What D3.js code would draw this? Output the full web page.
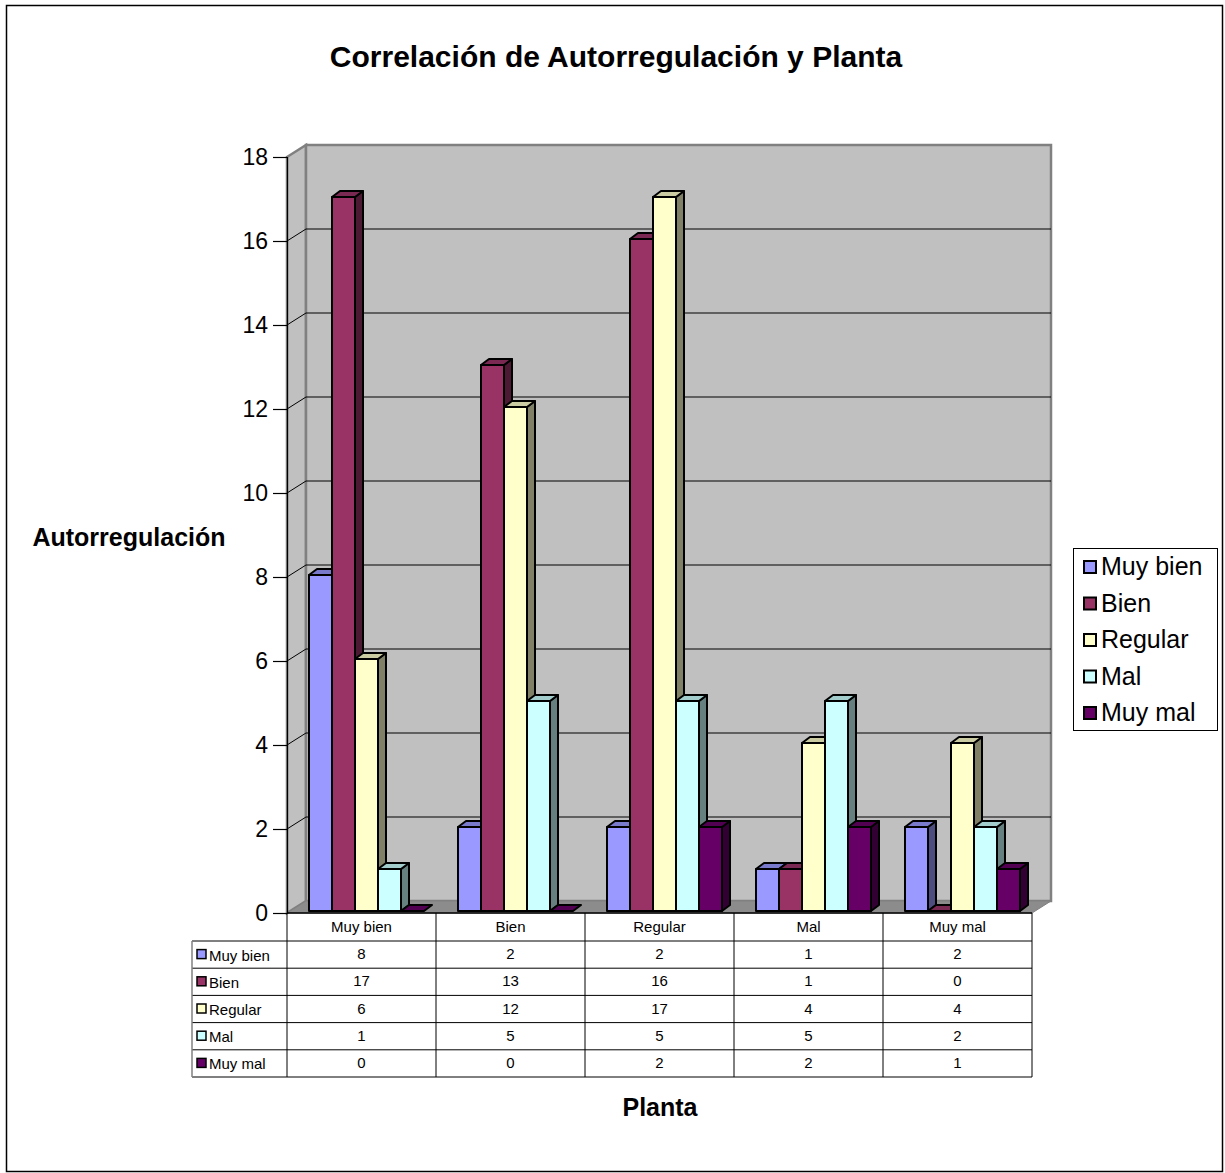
<!DOCTYPE html>
<html>
<head>
<meta charset="utf-8">
<script src="https://cdn.jsdelivr.net/npm/d3@7"></script>
<style>
  html, body { margin: 0; padding: 0; background: #fff; }
  svg { display: block; font-family: Arial, "Liberation Sans", sans-serif; }
</style>
</head>
<body>
<svg id="chart" width="1225" height="1173"></svg>
<script>
// Categories along the x axis (Planta)
const categories = ["Muy bien", "Bien", "Regular", "Mal", "Muy mal"];
// Series (Autorregulación levels)
const seriesNames = ["Muy bien", "Bien", "Regular", "Mal", "Muy mal"];
const seriesColors = ["#9999FF", "#993366", "#FFFFCC", "#CCFFFF", "#660066"];
// Values per series, one entry per category
const valMuyBien = [8, 2, 2, 1, 2];
const valBien    = [17, 13, 16, 1, 0];
const valRegular = [6, 12, 17, 4, 4];
const valMal     = [1, 5, 5, 5, 2];
const valMuyMal  = [0, 0, 2, 2, 1];
const yTicks = [0, 2, 4, 6, 8, 10, 12, 14, 16, 18];

const seriesValues = [valMuyBien, valBien, valRegular, valMal, valMuyMal];

const svg = d3.select("#chart");

// outer frame
svg.append("rect").attr("x", 6.5).attr("y", 5.5).attr("width", 1216).attr("height", 1166)
  .attr("fill", "#fff").attr("stroke", "#000").attr("stroke-width", 1.5);

// layout of the 3D plot
const frontLeft = 287, frontRight = 1032, frontBottom = 913;
const depthX = 19, depthY = -12;     // offset of the back wall
const barDX = 8, barDY = -6;          // depth of each column
const barShiftX = 2, barShiftY = -2;  // columns sit slightly behind the front plane

const x0 = d3.scaleBand().domain(categories).range([frontLeft, frontRight]).padding(0);
const x1 = d3.scaleBand().domain(seriesNames).range([22 - barShiftX, 137 - barShiftX]).padding(0);
const yAxisScale = d3.scaleLinear().domain([0, 18]).range([frontBottom, 157]);
const yBar = d3.scaleLinear().domain([0, 18]).range([frontBottom + barShiftY, 157 + barShiftY]);

const topY = yAxisScale(18);

// side wall
svg.append("polygon")
  .attr("points", [[frontLeft, topY], [frontLeft + depthX, topY + depthY], [frontLeft + depthX, frontBottom + depthY], [frontLeft, frontBottom]].join(" "))
  .attr("fill", "#c0c0c0").attr("stroke", "#808080").attr("stroke-width", 2.5);
// back wall
svg.append("rect")
  .attr("x", frontLeft + depthX).attr("y", topY + depthY)
  .attr("width", frontRight - frontLeft).attr("height", frontBottom - topY)
  .attr("fill", "#c0c0c0").attr("stroke", "#808080").attr("stroke-width", 2.5);

// gridlines on back and side walls
const grid = svg.append("g");
yTicks.filter(t => t > 0 && t < 18).forEach(t => {
  const yy = yAxisScale(t);
  grid.append("line").attr("x1", frontLeft).attr("y1", yy).attr("x2", frontLeft + depthX).attr("y2", yy + depthY)
    .attr("stroke", "#000").attr("stroke-width", 1);
  grid.append("line").attr("x1", frontLeft + depthX).attr("y1", yy + depthY).attr("x2", frontRight + depthX).attr("y2", yy + depthY)
    .attr("stroke", "#000").attr("stroke-width", 1);
});

// floor
svg.append("polygon")
  .attr("points", [[frontLeft, frontBottom], [frontLeft + depthX, frontBottom + depthY], [frontRight + depthX, frontBottom + depthY], [frontRight, frontBottom]].join(" "))
  .attr("fill", "#8c8c8c").attr("stroke", "#808080").attr("stroke-width", 1);

// columns
const shade = (c, k) => { const r = d3.rgb(c); return d3.rgb(r.r * k, r.g * k, r.b * k).formatHex(); };
const bars = svg.append("g").attr("stroke", "#000").attr("stroke-width", 2).attr("stroke-linejoin", "round");
categories.forEach((cat, ci) => {
  seriesNames.forEach((s, si) => {
    const v = seriesValues[si][ci];
    const color = seriesColors[si];
    const xl = x0(cat) + x1(s) + barShiftX;
    const xr = xl + x1.bandwidth();
    const yb = yBar(0);
    const yt = yBar(v);
    if (v > 0) {
      bars.append("polygon")
        .attr("points", [[xr, yt], [xr + barDX, yt + barDY], [xr + barDX, yb + barDY], [xr, yb]].join(" "))
        .attr("fill", shade(color, 0.5));
    }
    bars.append("polygon")
      .attr("points", [[xl, yt], [xl + barDX, yt + barDY], [xr + barDX, yt + barDY], [xr, yt]].join(" "))
      .attr("fill", shade(color, 0.8));
    if (v > 0) {
      bars.append("rect").attr("x", xl).attr("y", yt).attr("width", xr - xl).attr("height", yb - yt)
        .attr("fill", color);
    }
  });
});

// y axis
const yAxis = d3.axisLeft(yAxisScale).tickValues(yTicks).tickSize(14).tickPadding(5);
const yg = svg.append("g").attr("transform", `translate(${frontLeft},0)`).call(yAxis);
yg.select(".domain").attr("stroke", "#000").attr("stroke-width", 1.2);
yg.selectAll(".tick line").attr("stroke", "#000").attr("stroke-width", 1.2);
yg.selectAll(".tick text").attr("font-size", 23).attr("fill", "#000")
  .attr("font-family", "Arial, 'Liberation Sans', sans-serif");

// data table
const tableLeft = 192;
const headerTop = frontBottom, headerH = 28;
const rowH = 27.2;
const table = svg.append("g").attr("font-size", 15).attr("fill", "#000");
const tableBottom = headerTop + headerH + rowH * seriesNames.length;
// header cells
table.append("line").attr("x1", frontLeft).attr("x2", frontRight).attr("y1", headerTop).attr("y2", headerTop).attr("stroke", "#000").attr("stroke-width", 1.5);
categories.forEach((cat, ci) => {
  table.append("text").attr("x", x0(cat) + x0.bandwidth() / 2).attr("y", headerTop + 19)
    .attr("text-anchor", "middle").text(cat);
});
// row lines
for (let r = 0; r <= seriesNames.length; r++) {
  const yy = headerTop + headerH + r * rowH;
  table.append("line").attr("x1", tableLeft).attr("x2", frontRight).attr("y1", yy).attr("y2", yy)
    .attr("stroke", "#000").attr("stroke-width", 1);
}
// column lines
[frontLeft].concat(categories.map(c => x0(c) + x0.bandwidth())).forEach(xx => {
  table.append("line").attr("x1", xx).attr("x2", xx).attr("y1", headerTop).attr("y2", tableBottom)
    .attr("stroke", "#000").attr("stroke-width", 1);
});
table.append("line").attr("x1", tableLeft).attr("x2", tableLeft).attr("y1", headerTop + headerH).attr("y2", tableBottom)
  .attr("stroke", "#808080").attr("stroke-width", 1.5);
// row content
seriesNames.forEach((s, si) => {
  const yy = headerTop + headerH + si * rowH;
  table.append("rect").attr("x", tableLeft + 5).attr("y", yy + rowH / 2 - 5).attr("width", 9).attr("height", 9)
    .attr("fill", seriesColors[si]).attr("stroke", "#000").attr("stroke-width", 1.5);
  table.append("text").attr("x", tableLeft + 17).attr("y", yy + rowH / 2 + 6).text(s);
  categories.forEach((cat, ci) => {
    table.append("text").attr("x", x0(cat) + x0.bandwidth() / 2).attr("y", yy + rowH / 2 + 4.5)
      .attr("text-anchor", "middle").text(seriesValues[si][ci]);
  });
});

// legend
const legend = svg.append("g");
legend.append("rect").attr("x", 1073.5).attr("y", 548.5).attr("width", 144).attr("height", 182)
  .attr("fill", "#fff").attr("stroke", "#000").attr("stroke-width", 1);
const legendY = d3.scalePoint().domain(seriesNames).range([567, 713]);
seriesNames.forEach((s, si) => {
  const yy = legendY(s);
  legend.append("rect").attr("x", 1084).attr("y", yy - 6).attr("width", 12).attr("height", 12)
    .attr("fill", seriesColors[si]).attr("stroke", "#000").attr("stroke-width", 2);
  legend.append("text").attr("x", 1101).attr("y", yy + 8).attr("font-size", 25).text(s);
});

// titles
svg.append("text").attr("x", 616).attr("y", 67).attr("text-anchor", "middle")
  .attr("font-size", 30).attr("font-weight", "bold").text("Correlación de Autorregulación y Planta");
svg.append("text").attr("x", 129).attr("y", 546).attr("text-anchor", "middle")
  .attr("font-size", 25).attr("font-weight", "bold").text("Autorregulación");
svg.append("text").attr("x", 660).attr("y", 1116).attr("text-anchor", "middle")
  .attr("font-size", 25).attr("font-weight", "bold").text("Planta");
</script>
</body>
</html>
